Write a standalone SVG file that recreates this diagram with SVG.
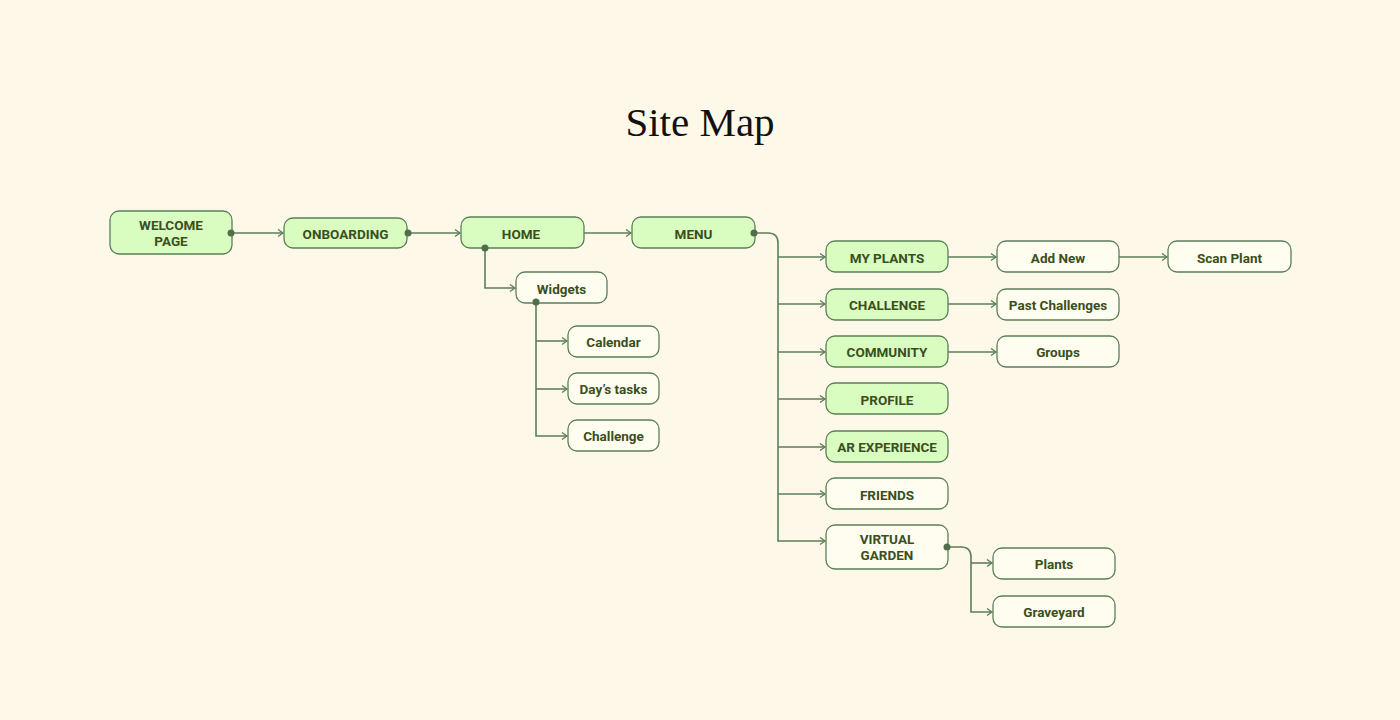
<svg xmlns="http://www.w3.org/2000/svg" width="1400" height="720" viewBox="0 0 1400 720">
<defs>
<marker id="arr" markerWidth="10" markerHeight="10" refX="6" refY="4" orient="auto" markerUnits="userSpaceOnUse">
<path d="M1,0.5 L6,4 L1,7.5" fill="none" stroke="#5B7F58" stroke-width="1.3"/>
</marker>
<style>
.n rect{stroke:#5B7F58;stroke-width:1.3}
.g rect{fill:#D9FCC0}
.w rect{fill:#FFFDF0}
.n text{font-family:Roboto,"Liberation Sans",sans-serif;font-weight:bold;font-size:13.5px;fill:#3A4F1C;text-anchor:middle}
.c path{fill:none;stroke:#5B7F58;stroke-width:1.6}
.d circle{fill:#4F6F4A}
.t{font-family:"Liberation Serif",serif;font-size:41px;fill:#111;text-anchor:middle}
</style>
</defs>
<rect width="1400" height="720" fill="#FEF8E9"/>
<text class="t" x="700" y="136">Site Map</text>

<g class="c" id="connectors">
<path d="M231,233 H283" marker-end="url(#arr)"/>
<path d="M408,233 H460" marker-end="url(#arr)"/>
<path d="M584,233 H631" marker-end="url(#arr)"/>
<path d="M485,248 V288 H515" marker-end="url(#arr)"/>
<path d="M536,302 V436 H567" marker-end="url(#arr)"/>
<path d="M536,341 H567" marker-end="url(#arr)"/>
<path d="M536,389 H567" marker-end="url(#arr)"/>
<path d="M754,233 H768 Q778,233 778,243 V541 H825" marker-end="url(#arr)"/>
<path d="M778,257 H825" marker-end="url(#arr)"/>
<path d="M778,304 H825" marker-end="url(#arr)"/>
<path d="M778,352 H825" marker-end="url(#arr)"/>
<path d="M778,399 H825" marker-end="url(#arr)"/>
<path d="M778,447 H825" marker-end="url(#arr)"/>
<path d="M778,494 H825" marker-end="url(#arr)"/>
<path d="M948,257 H996" marker-end="url(#arr)"/>
<path d="M1119,257 H1167" marker-end="url(#arr)"/>
<path d="M948,304 H996" marker-end="url(#arr)"/>
<path d="M948,352 H996" marker-end="url(#arr)"/>
<path d="M947,547 H961 Q971,547 971,557 V612 H992" marker-end="url(#arr)"/>
<path d="M971,563 H992" marker-end="url(#arr)"/>
</g>

<g id="welcome" class="n g"><rect x="110" y="211" width="122" height="43" rx="9"/><text x="171" y="230">WELCOME</text><text x="171" y="246">PAGE</text></g>
<g id="onboarding" class="n g"><rect x="284" y="218" width="123" height="30" rx="9"/><text x="345.5" y="238.5">ONBOARDING</text></g>
<g id="home" class="n g"><rect x="461" y="217" width="123" height="31" rx="9"/><text x="521" y="239">HOME</text></g>
<g id="menu" class="n g"><rect x="632" y="217" width="123" height="31" rx="9"/><text x="693.5" y="239">MENU</text></g>
<g id="widgets" class="n w"><rect x="516" y="272" width="91" height="31" rx="9"/><text x="561.5" y="294">Widgets</text></g>
<g id="calendar" class="n w"><rect x="568" y="326" width="91" height="31" rx="9"/><text x="613.5" y="347">Calendar</text></g>
<g id="daystasks" class="n w"><rect x="568" y="373" width="91" height="31" rx="9"/><text x="613.5" y="394">Day’s tasks</text></g>
<g id="challenge-w" class="n w"><rect x="568" y="420" width="91" height="31" rx="9"/><text x="613.5" y="441">Challenge</text></g>
<g id="myplants" class="n g"><rect x="826" y="241" width="122" height="31" rx="9"/><text x="887" y="263">MY PLANTS</text></g>
<g id="challenge" class="n g"><rect x="826" y="289" width="122" height="31" rx="9"/><text x="887" y="310">CHALLENGE</text></g>
<g id="community" class="n g"><rect x="826" y="336" width="122" height="31" rx="9"/><text x="887" y="357">COMMUNITY</text></g>
<g id="profile" class="n g"><rect x="826" y="383" width="122" height="31" rx="9"/><text x="887" y="405">PROFILE</text></g>
<g id="ar" class="n g"><rect x="826" y="431" width="122" height="31" rx="9"/><text x="887" y="452">AR EXPERIENCE</text></g>
<g id="friends" class="n w"><rect x="826" y="478" width="122" height="31" rx="9"/><text x="887" y="500">FRIENDS</text></g>
<g id="virtualgarden" class="n w"><rect x="826" y="525" width="122" height="44" rx="9"/><text x="887" y="544">VIRTUAL</text><text x="887" y="560">GARDEN</text></g>
<g id="addnew" class="n w"><rect x="997" y="241" width="122" height="31" rx="9"/><text x="1058" y="263">Add New</text></g>
<g id="scanplant" class="n w"><rect x="1168" y="241" width="123" height="31" rx="9"/><text x="1229.5" y="263">Scan Plant</text></g>
<g id="pastchallenges" class="n w"><rect x="997" y="289" width="122" height="31" rx="9"/><text x="1058" y="310">Past Challenges</text></g>
<g id="groups" class="n w"><rect x="997" y="336" width="122" height="31" rx="9"/><text x="1058" y="357">Groups</text></g>
<g id="plants" class="n w"><rect x="993" y="548" width="122" height="31" rx="9"/><text x="1054" y="569">Plants</text></g>
<g id="graveyard" class="n w"><rect x="993" y="596" width="122" height="31" rx="9"/><text x="1054" y="617">Graveyard</text></g>

<g class="d" id="dots">
<circle cx="231" cy="233" r="3.5"/>
<circle cx="408" cy="233" r="3.5"/>
<circle cx="485" cy="248" r="3.5"/>
<circle cx="536" cy="302" r="3.5"/>
<circle cx="754" cy="233" r="3.5"/>
<circle cx="947" cy="547" r="3.5"/>
</g>
</svg>
